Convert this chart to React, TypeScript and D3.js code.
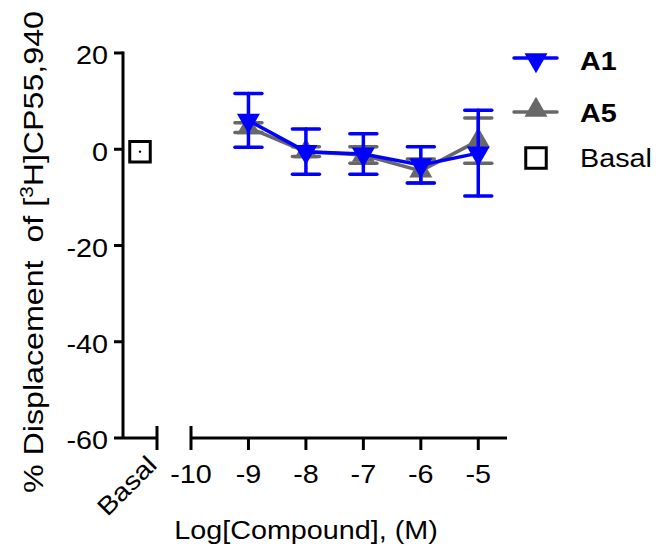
import React from 'react';
import * as d3 from 'd3';

const doses = [-9, -8, -7, -6, -5];
const a1Mean = [6, -0.5, -1, -3.25, -0.8];
const a1Err = [5.6, 4.7, 4.2, 3.75, 8.9];
const a5Mean = [4.5, -0.5, -1.2, -4.5, 1.8];
const a5Err = [1, 1, 1.7, 2.5, 4.7];
const basalMean = [-0.5];
const basalCats = ['Basal'];
const xTicks = [-10, -9, -8, -7, -6, -5];
const yTicks = [20, 0, -20, -40, -60];

const FONT = '"Liberation Sans", Arial, sans-serif';
const SX = 1.15; // reference glyphs are wider than Liberation Sans

// text drawn at a point, optionally rotated, widened along its own direction
const Label = ({ x, y, rot = 0, size = 25, anchor = 'start', dy = '0', bold = false, children }: any) => (
  <text
    transform={`translate(${x},${y}) rotate(${rot}) scale(${SX},1)`}
    textAnchor={anchor}
    dy={dy}
    fontSize={size}
    fontWeight={bold ? 'bold' : 'normal'}
    style={{ whiteSpace: 'pre' }}
  >
    {children}
  </text>
);

const App = () => {
  const x = d3.scaleLinear().domain([-10, -4.5]).range([191, 507]);
  const xb = d3.scaleBand().domain(basalCats).range([123, 157]);
  const y = d3.scaleLinear().domain([-60, 20]).range([438, 53]);

  const line = d3.line<number>()
    .x((_, i) => x(doses[i]))
    .y(d => y(d));

  const tri = d3.symbol().type(d3.symbolTriangle).size(230)()!;
  const sq = d3.symbol().type(d3.symbolSquare).size(420)()!;

  const series = [
    { name: 'A5', mean: a5Mean, err: a5Err, color: '#686868', rot: 0 },
    { name: 'A1', mean: a1Mean, err: a1Err, color: '#0000ff', rot: 180 },
  ];

  const capW = 13.5;
  const bx = xb('Basal')! + xb.bandwidth() / 2;

  return (
    <svg width={659} height={553} style={{ position: 'absolute', left: 0, top: 0 }} fontFamily={FONT}>
      {/* y axis */}
      <line x1={123} x2={123} y1={y(20) - 1.5} y2={y(-60)} stroke="#000" strokeWidth={3} />
      {yTicks.map(t => (
        <g key={t}>
          <line x1={114} x2={123} y1={y(t)} y2={y(t)} stroke="#000" strokeWidth={3} />
          <Label x={108} y={y(t)} anchor="end" dy="0.45em">{t}</Label>
        </g>
      ))}
      {/* basal segment */}
      <line x1={123} x2={157} y1={y(-60)} y2={y(-60)} stroke="#000" strokeWidth={3} />
      <line x1={157} x2={157} y1={y(-60) - 12} y2={y(-60) + 12} stroke="#000" strokeWidth={3} />
      <Label x={bx + 6} y={y(-60) + 16} rot={-45} anchor="end" dy="0.7em">Basal</Label>
      {/* main x axis */}
      <line x1={x(-10)} x2={x(-4.5)} y1={y(-60)} y2={y(-60)} stroke="#000" strokeWidth={3} />
      <line x1={x(-10)} x2={x(-10)} y1={y(-60) - 12} y2={y(-60) + 12} stroke="#000" strokeWidth={3} />
      {xTicks.map(t => (
        <g key={t}>
          {t !== -10 && <line x1={x(t)} x2={x(t)} y1={y(-60)} y2={y(-60) + 12} stroke="#000" strokeWidth={3} />}
          <Label x={x(t)} y={y(-60) + 45} anchor="middle">{t}</Label>
        </g>
      ))}
      <Label x={306} y={539} anchor="middle">Log[Compound], (M)</Label>
      <Label x={43} y={252} rot={-90} size={28} anchor="middle">
        {'% Displacement  of ['}<tspan dy={-10} fontSize={18}>3</tspan><tspan dy={10}>H]CP55,940</tspan>
      </Label>

      {/* basal point */}
      {basalMean.map((v, i) => (
        <g key={i}>
          <path d={sq} transform={`translate(${xb(basalCats[i])! + xb.bandwidth() / 2},${y(v)})`} fill="none" stroke="#000" strokeWidth={3} />
          <circle cx={xb(basalCats[i])! + xb.bandwidth() / 2} cy={y(v)} r={1.2} fill="#000" />
        </g>
      ))}

      {/* series */}
      {series.map(s => (
        <g key={s.name}>
          {s.mean.map((m, i) => (
            <g key={i} stroke={s.color} strokeWidth={3.5} strokeLinecap="round">
              <line x1={x(doses[i])} x2={x(doses[i])} y1={y(m + s.err[i])} y2={y(m - s.err[i])} />
              <line x1={x(doses[i]) - capW} x2={x(doses[i]) + capW} y1={y(m + s.err[i])} y2={y(m + s.err[i])} />
              <line x1={x(doses[i]) - capW} x2={x(doses[i]) + capW} y1={y(m - s.err[i])} y2={y(m - s.err[i])} />
            </g>
          ))}
          <path d={line(s.mean)!} fill="none" stroke={s.color} strokeWidth={3.5} />
          {s.mean.map((m, i) => (
            <path key={i} d={tri} fill={s.color} transform={`translate(${x(doses[i])},${y(m)}) rotate(${s.rot})`} />
          ))}
        </g>
      ))}

      {/* legend */}
      <g>
        <line x1={514} x2={557} y1={58} y2={58} stroke="#0000ff" strokeWidth={3.5} strokeLinecap="round" />
        <path d={tri} fill="#0000ff" transform="translate(536,60) rotate(180)" />
        <Label x={580} y={61} dy="0.35em" bold>A1</Label>
        <line x1={514} x2={557} y1={112} y2={112} stroke="#686868" strokeWidth={3.5} strokeLinecap="round" />
        <path d={tri} fill="#686868" transform="translate(536,110)" />
        <Label x={580} y={113} dy="0.35em" bold>A5</Label>
        <path d={sq} fill="none" stroke="#000" strokeWidth={3} transform="translate(536,158)" />
        <Label x={580} y={158} dy="0.35em">Basal</Label>
      </g>
    </svg>
  );
};

export default App;
